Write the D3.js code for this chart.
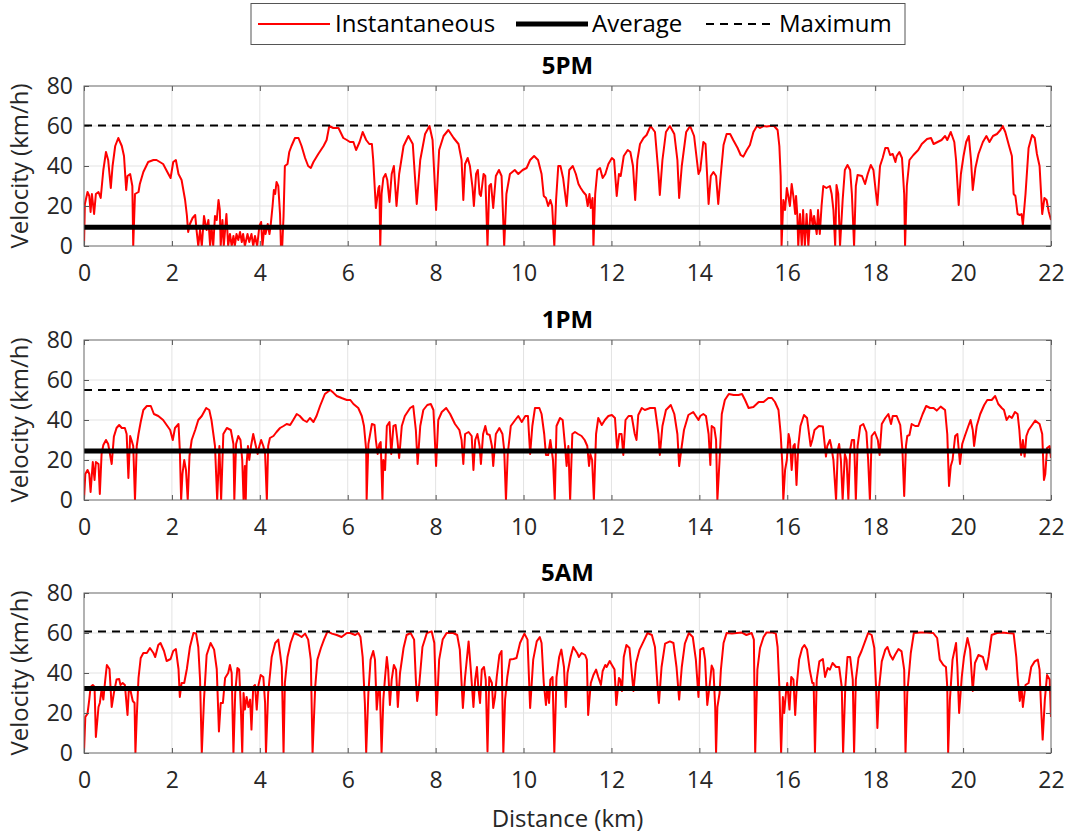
<!DOCTYPE html>
<html><head><meta charset="utf-8">
<script src="https://cdn.jsdelivr.net/npm/d3@7"></script>
<style>
body{margin:0;background:#fff;}
svg{display:block;font-family:"Open Sans",sans-serif;}
</style></head>
<body><svg id="chart" width="1067" height="836"></svg>
<script>
// ---------- data ----------
const panelTitles = ["5PM", "1PM", "5AM"];
const xTicks = [0,2,4,6,8,10,12,14,16,18,20,22];
const yTicks = [0,20,40,60,80];
const averageVel = [9.4, 24.5, 32.2];
const maximumVel = [60.3, 55, 60.8];
const legendLabels = ["Instantaneous", "Average", "Maximum"];

// [distance km, velocity km/h]
const vel5PM = [[0,0],[0.02,21],[0.08,27],[0.12,25],[0.15,17],[0.18,26],[0.23,16],[0.27,26],[0.33,27],[0.38,24],[0.44,38],[0.50,47],[0.55,43],[0.61,29],[0.65,40],[0.71,50],[0.78,54],[0.86,50],[0.91,45],[0.96,28],[0.99,35],[1.05,36],[1.10,30],[1.12,0],[1.16,26],[1.24,27],[1.27,31],[1.35,37],[1.46,42],[1.58,43],[1.65,43],[1.80,41],[1.92,36],[1.97,34],[2.03,42],[2.09,43],[2.15,36],[2.22,33],[2.30,23],[2.34,15.5],[2.37,7],[2.41,11],[2.47,14],[2.53,15.5],[2.56,8],[2.60,0],[2.64,8],[2.68,0],[2.73,15],[2.79,8],[2.83,13],[2.87,0],[2.90,10],[2.94,0],[2.98,15],[3.02,13],[3.06,23],[3.09,18],[3.11,0],[3.15,13],[3.18,0],[3.24,16],[3.28,0],[3.32,6],[3.36,0],[3.40,5],[3.43,0],[3.47,6],[3.51,3],[3.55,7],[3.59,2],[3.62,6],[3.66,0],[3.72,6],[3.76,2],[3.81,6],[3.85,0],[3.89,5],[3.94,0],[3.99,10],[4.03,12],[4.06,0],[4.10,9],[4.13,6],[4.18,11],[4.22,6],[4.25,11],[4.29,20],[4.32,28],[4.35,26],[4.38,32],[4.42,30],[4.46,16],[4.48,0],[4.51,0],[4.54,15],[4.57,40],[4.63,41],[4.67,47],[4.72,50],[4.80,54],[4.88,54],[4.95,50],[5.03,44],[5.10,40],[5.16,39],[5.22,42],[5.33,46],[5.45,50],[5.52,53],[5.58,60],[5.67,59],[5.79,59],[5.90,54],[5.98,53],[6.05,52],[6.13,52],[6.19,48],[6.27,52],[6.34,57],[6.42,53],[6.49,51],[6.55,51],[6.58,43],[6.64,19],[6.70,29],[6.72,30],[6.74,0],[6.77,26],[6.81,34],[6.86,36],[6.90,33],[6.95,22],[7.00,36],[7.05,40],[7.11,20],[7.17,36],[7.27,50],[7.38,55],[7.48,51],[7.57,21],[7.65,43],[7.76,56],[7.86,60],[7.93,53],[8.01,18],[8.08,48],[8.18,55],[8.29,58],[8.41,54],[8.52,51],[8.59,43],[8.63,23],[8.67,41],[8.73,44],[8.78,40],[8.84,29],[8.87,20],[8.92,36],[8.96,38],[9.00,26],[9.03,25],[9.09,36],[9.13,35],[9.18,0],[9.22,30],[9.26,31],[9.31,19],[9.37,35],[9.44,38],[9.50,35],[9.56,0],[9.61,26],[9.69,36],[9.80,38],[9.88,36],[9.98,38],[10.07,39],[10.15,43],[10.24,45],[10.33,43],[10.41,36],[10.46,25],[10.51,24],[10.56,20],[10.61,23],[10.65,20],[10.70,0],[10.74,23],[10.79,40],[10.84,40],[10.90,34],[10.98,20],[11.04,38],[11.12,40],[11.19,36],[11.25,31],[11.30,29],[11.36,27],[11.42,25.5],[11.46,20],[11.50,26],[11.53,19],[11.57,24],[11.59,0],[11.63,26],[11.68,38],[11.74,39],[11.80,34],[11.86,36],[11.93,41],[12.01,44],[12.06,43],[12.12,25],[12.17,36],[12.21,35],[12.28,45],[12.37,48],[12.43,47],[12.49,40],[12.54,23],[12.59,43],[12.65,51],[12.73,54],[12.80,55.5],[12.89,60],[12.99,57],[13.07,36],[13.10,25.5],[13.16,43],[13.24,57],[13.33,60],[13.43,56],[13.50,43],[13.54,24],[13.60,40],[13.70,57],[13.79,60],[13.88,55],[13.98,36],[14.02,38],[14.09,52],[14.14,51],[14.21,21],[14.26,35],[14.32,37],[14.38,35],[14.43,21],[14.48,34],[14.55,50.5],[14.62,56],[14.70,56],[14.77,53],[14.87,49],[14.94,45.5],[15.00,44.7],[15.08,48],[15.15,50.5],[15.23,57],[15.31,60],[15.38,59],[15.46,60],[15.53,59.7],[15.61,60],[15.70,60],[15.78,58],[15.82,50],[15.85,35],[15.87,0],[15.91,23],[15.95,18],[15.99,29],[16.03,24],[16.06,20],[16.10,31],[16.14,24.7],[16.18,16],[16.20,25],[16.23,15],[16.25,0],[16.29,16],[16.33,0],[16.36,18],[16.40,0],[16.44,16],[16.48,0],[16.53,18],[16.58,10],[16.61,15],[16.67,6],[16.70,18],[16.74,6],[16.78,20],[16.82,30],[16.89,29],[16.97,30],[17.01,26],[17.05,18],[17.09,0],[17.12,30.5],[17.16,26],[17.20,0],[17.26,23],[17.31,38],[17.37,40.5],[17.43,38],[17.47,26],[17.52,0],[17.56,30],[17.60,35.5],[17.70,35],[17.77,31],[17.83,36],[17.90,40.5],[17.96,38],[18.02,26],[18.05,20.5],[18.11,40],[18.17,44],[18.23,49],[18.29,49],[18.34,45.5],[18.40,46],[18.46,42],[18.49,45],[18.55,47],[18.61,44],[18.66,26],[18.68,0],[18.72,30],[18.78,43],[18.87,45.5],[18.98,48],[19.06,51],[19.18,53.5],[19.27,54],[19.33,51],[19.42,52],[19.51,53],[19.59,55],[19.64,53],[19.72,57],[19.80,52],[19.84,43],[19.90,20.5],[19.95,36],[20.01,45],[20.07,52],[20.13,55],[20.18,43],[20.22,28],[20.28,39],[20.35,46],[20.45,52],[20.53,55],[20.60,52],[20.68,55],[20.77,56],[20.85,58],[20.90,60],[20.96,57],[21.04,50.5],[21.11,45],[21.15,26],[21.19,25],[21.24,16],[21.29,15.5],[21.33,16],[21.36,10.5],[21.42,26],[21.49,49],[21.57,55.5],[21.63,54],[21.68,46],[21.74,40],[21.80,16],[21.85,24],[21.90,23],[21.95,17],[22.00,13]];

const vel1PM = [[0,0],[0.03,13],[0.08,15],[0.12,13],[0.15,4],[0.20,19],[0.24,10],[0.27,19],[0.33,18],[0.36,3],[0.40,23],[0.44,27.5],[0.50,30],[0.55,28],[0.63,18],[0.68,31.7],[0.74,36],[0.80,37.5],[0.86,36],[0.93,36],[0.97,33],[1.01,11],[1.05,32],[1.08,30],[1.12,27],[1.16,0],[1.20,27],[1.24,33],[1.29,39],[1.35,45],[1.43,47],[1.52,47],[1.59,43],[1.69,42],[1.80,40],[1.88,37.5],[1.96,35],[2.02,30],[2.07,36],[2.15,38],[2.18,25],[2.21,0],[2.24,13],[2.28,20],[2.32,15],[2.36,0],[2.40,22],[2.45,30],[2.53,35],[2.60,40],[2.68,42],[2.78,46],[2.85,45],[2.90,40],[2.98,27],[3.03,0],[3.08,27],[3.12,0],[3.17,33],[3.25,36],[3.34,35],[3.40,28],[3.42,0],[3.46,28],[3.51,32],[3.56,30],[3.60,20],[3.63,0],[3.66,17],[3.68,0],[3.70,18],[3.73,27],[3.76,20],[3.80,27],[3.85,33],[3.91,27],[3.95,23],[3.99,27],[4.03,30],[4.08,27],[4.12,23],[4.16,0],[4.19,27],[4.23,31],[4.31,32],[4.38,34],[4.46,36],[4.54,37],[4.61,38],[4.69,37.5],[4.76,40],[4.84,43],[4.91,42],[4.99,40],[5.07,39],[5.14,41],[5.22,39],[5.29,42],[5.37,47],[5.48,53],[5.60,55],[5.67,53.7],[5.75,52],[5.86,51],[5.98,50],[6.06,50],[6.13,48],[6.24,46],[6.32,42],[6.37,37],[6.42,25],[6.43,0],[6.47,28],[6.55,38],[6.61,37.5],[6.64,30],[6.68,23],[6.72,28],[6.75,29],[6.79,0],[6.81,20],[6.85,15],[6.89,37],[6.95,39],[6.99,23],[7.04,37],[7.09,37.5],[7.13,30],[7.17,21],[7.23,37],[7.30,42],[7.42,46],[7.49,47],[7.55,35],[7.59,18],[7.65,37],[7.72,45],[7.81,47.5],[7.89,48],[7.95,45],[8.01,17],[8.06,40],[8.14,44],[8.24,46],[8.33,43],[8.44,38],[8.54,35],[8.59,30],[8.63,18],[8.67,33],[8.75,34],[8.82,32],[8.86,15],[8.90,30],[8.95,33],[9.00,27],[9.03,18],[9.08,33],[9.13,37],[9.17,33],[9.23,32.5],[9.28,27],[9.31,17],[9.37,33],[9.45,36],[9.52,33],[9.56,25],[9.60,0],[9.64,23],[9.71,37],[9.81,40],[9.88,42],[9.96,39],[10.04,42],[10.10,42],[10.15,23],[10.20,37],[10.26,46],[10.36,46],[10.41,43],[10.47,33],[10.51,22.5],[10.56,22.5],[10.61,30],[10.67,20],[10.71,0],[10.75,37],[10.83,41],[10.89,40],[10.94,28],[10.98,17],[11.02,27],[11.06,0],[11.11,33],[11.17,34],[11.24,33],[11.32,32],[11.39,30],[11.45,27],[11.49,17],[11.52,23],[11.56,20],[11.60,0],[11.65,33],[11.70,41],[11.78,37.5],[11.85,40],[11.93,42],[12.01,42.5],[12.08,41],[12.13,25],[12.18,33],[12.23,33],[12.27,22.5],[12.32,40],[12.39,42],[12.46,42],[12.53,33],[12.57,30],[12.61,42.5],[12.69,46],[12.76,45],[12.88,46],[12.99,46],[13.07,33],[13.10,22.5],[13.16,37],[13.24,45],[13.35,47.5],[13.43,43],[13.50,33],[13.54,17],[13.60,27],[13.65,35],[13.75,42.5],[13.86,44],[13.98,40],[14.02,42],[14.09,43],[14.15,42],[14.21,33],[14.25,17.5],[14.28,37],[14.34,36],[14.38,30],[14.41,0],[14.46,20],[14.51,43],[14.58,50],[14.67,53],[14.78,52.5],[14.89,52.5],[14.97,53],[15.04,50],[15.12,46],[15.23,46.5],[15.35,49],[15.46,49],[15.57,51],[15.65,51],[15.72,49],[15.80,45],[15.85,33],[15.89,17],[15.91,0],[15.95,15],[15.99,20],[16.03,33],[16.06,30],[16.10,15],[16.14,27],[16.17,28],[16.21,7.5],[16.25,27],[16.30,37],[16.38,42.5],[16.45,41],[16.53,27],[16.57,30],[16.62,35],[16.72,37],[16.81,36.7],[16.88,21.7],[16.91,27],[16.97,30],[17.00,27],[17.05,20],[17.11,0],[17.15,25],[17.18,28],[17.22,20],[17.26,0],[17.31,23],[17.35,20],[17.39,0],[17.43,25],[17.47,30],[17.52,30],[17.56,0],[17.60,27],[17.66,37],[17.73,38],[17.80,34],[17.84,20],[17.88,0],[17.92,32],[17.99,34],[18.06,30],[18.10,22.5],[18.15,38],[18.23,41],[18.30,43],[18.36,38],[18.40,42],[18.49,42],[18.57,37.5],[18.62,25],[18.66,2],[18.70,27],[18.73,32],[18.78,32.5],[18.83,38],[18.91,37],[18.98,37],[19.08,43],[19.16,47],[19.25,46],[19.33,46],[19.40,44.7],[19.49,46.7],[19.59,45],[19.64,33],[19.68,7],[19.72,17],[19.76,20],[19.82,32],[19.87,33],[19.93,18],[19.98,28],[20.04,32],[20.12,37],[20.17,40],[20.22,35],[20.25,27],[20.31,37],[20.39,43],[20.48,47.5],[20.55,50],[20.65,50],[20.73,52],[20.80,48],[20.88,46],[20.93,45],[20.99,40],[21.05,42],[21.11,41],[21.18,44],[21.24,43],[21.28,35],[21.32,22.5],[21.36,30],[21.40,21.7],[21.44,32],[21.49,35],[21.57,37.5],[21.64,39.7],[21.74,38],[21.80,33],[21.84,10],[21.87,13],[21.91,26],[21.97,27],[22.00,21]];

const vel5AM = [[0,0],[0.03,18],[0.08,19.7],[0.12,26.7],[0.15,33],[0.20,34],[0.24,33],[0.27,8],[0.33,23],[0.36,25],[0.40,31.7],[0.44,26.7],[0.48,35.8],[0.52,44],[0.58,42],[0.63,23],[0.68,30],[0.74,36.7],[0.80,37],[0.83,34],[0.88,35],[0.93,34],[0.99,19],[1.02,31.7],[1.06,31],[1.11,26],[1.15,25],[1.17,0],[1.20,18],[1.24,37.5],[1.29,47.5],[1.35,50],[1.43,50],[1.50,52.5],[1.58,50],[1.62,48],[1.69,54],[1.74,55],[1.82,51],[1.88,46],[1.97,47],[2.03,51],[2.09,52],[2.15,42],[2.18,28],[2.22,35],[2.28,35],[2.34,42],[2.41,53],[2.49,60],[2.55,59.7],[2.60,53],[2.64,37],[2.68,0],[2.73,26.7],[2.79,49],[2.88,55],[2.96,51.7],[3.02,42],[3.07,10.8],[3.11,25],[3.16,25],[3.21,37.5],[3.28,40],[3.32,44],[3.36,40],[3.40,0],[3.44,30],[3.49,42.5],[3.53,41.7],[3.57,21.7],[3.60,0],[3.63,30],[3.66,21.7],[3.70,28],[3.74,23],[3.78,26.7],[3.81,11.7],[3.85,33],[3.89,34],[3.93,21.7],[3.97,34],[4.02,39],[4.08,38],[4.12,25],[4.14,0],[4.19,30],[4.27,48],[4.35,55],[4.42,56.7],[4.46,50],[4.50,43],[4.54,0],[4.57,35],[4.63,48],[4.70,55],[4.78,60],[4.88,59],[4.95,58],[5.03,59.7],[5.10,56.7],[5.16,46.7],[5.20,0],[5.26,33],[5.31,46.7],[5.39,52.5],[5.46,56.7],[5.54,60.8],[5.64,59.7],[5.75,59],[5.86,58],[5.98,60],[6.06,60],[6.17,59],[6.24,60],[6.29,58],[6.34,48],[6.39,25],[6.42,0],[6.47,30],[6.52,46.7],[6.58,51],[6.62,46.7],[6.66,21.7],[6.70,31.7],[6.73,33],[6.77,0],[6.81,26.7],[6.85,38],[6.89,48],[6.92,41.7],[6.96,24],[7.00,36.7],[7.05,44],[7.10,41.7],[7.14,23],[7.19,40],[7.27,52.5],[7.34,59],[7.43,60],[7.51,56.7],[7.55,36.7],[7.58,26],[7.63,35],[7.70,53],[7.80,60],[7.91,60.8],[7.97,55],[8.02,19],[8.08,46.7],[8.16,56.7],[8.25,60],[8.40,60],[8.49,59],[8.55,51.7],[8.62,22.5],[8.67,38],[8.75,55.8],[8.80,41.7],[8.86,23],[8.90,36.7],[8.94,43],[8.97,33],[9.01,25],[9.05,41.7],[9.10,43],[9.14,36.7],[9.18,0.8],[9.22,38],[9.28,35],[9.31,22.5],[9.35,28],[9.39,38],[9.45,49],[9.50,51],[9.54,0],[9.58,26.7],[9.63,38],[9.69,46.7],[9.77,47],[9.84,47.5],[9.92,55],[10.02,59.7],[10.09,56.7],[10.15,22.5],[10.22,46.7],[10.30,55.8],[10.37,58],[10.41,55],[10.46,35],[10.51,24],[10.54,33],[10.58,25],[10.61,36.7],[10.66,38],[10.70,0],[10.75,38],[10.81,48],[10.86,51.7],[10.92,43],[10.96,23],[11.00,40],[11.07,48],[11.13,53],[11.19,51],[11.22,50],[11.26,48],[11.32,50],[11.40,49],[11.44,46.7],[11.47,19],[11.53,35],[11.59,39],[11.65,41.7],[11.70,38],[11.76,34],[11.80,41],[11.86,44],[11.89,43],[11.96,46],[12.01,44],[12.07,41.7],[12.11,24],[12.17,37.5],[12.20,36.7],[12.24,31],[12.28,48],[12.34,54],[12.41,52.5],[12.45,43],[12.50,31],[12.56,45],[12.64,51.7],[12.73,55.8],[12.82,60],[12.92,59],[12.99,53],[13.05,33],[13.08,25],[13.14,43],[13.22,54.7],[13.33,55.8],[13.41,55],[13.48,43],[13.54,26.7],[13.60,43],[13.67,54.7],[13.76,60],[13.85,58],[13.92,46.7],[13.98,28],[14.02,51.7],[14.09,52.5],[14.13,46.7],[14.18,24],[14.23,33],[14.28,43.7],[14.32,41.7],[14.36,23],[14.38,0],[14.41,23],[14.46,30],[14.49,41.7],[14.55,55],[14.62,60],[14.74,59.7],[14.85,60],[14.96,60.3],[15.07,59],[15.19,60],[15.24,56.7],[15.27,0],[15.32,41.7],[15.38,52.5],[15.46,58],[15.53,60.3],[15.65,60.3],[15.74,59.7],[15.78,53],[15.82,33],[15.86,0],[15.90,28],[15.93,20],[15.97,30],[16.00,35],[16.05,21.7],[16.09,38],[16.14,36.7],[16.18,19],[16.22,35],[16.27,46.7],[16.34,52.5],[16.39,54],[16.45,51.7],[16.51,41.7],[16.57,35],[16.60,35],[16.63,0],[16.67,36.7],[16.73,45.8],[16.81,47],[16.86,38],[16.92,42.5],[16.97,41.7],[17.03,45],[17.11,43],[17.18,43],[17.24,33],[17.27,0],[17.32,33],[17.37,48],[17.43,48],[17.49,36.7],[17.52,0],[17.56,36.7],[17.62,47.5],[17.69,51],[17.77,55.8],[17.84,60],[17.92,59],[17.98,52.5],[18.02,33],[18.05,12.5],[18.09,33],[18.15,45.8],[18.23,51.7],[18.28,53],[18.34,49],[18.40,46.7],[18.45,49],[18.53,52],[18.60,50.8],[18.66,41.7],[18.69,0],[18.73,30],[18.81,50],[18.88,60],[19.02,60.3],[19.17,60.3],[19.32,60],[19.41,57.5],[19.47,46.7],[19.55,44],[19.61,43],[19.64,33],[19.66,0],[19.70,26.7],[19.76,46.7],[19.84,55],[19.87,43],[19.91,20],[19.97,38],[20.02,48],[20.10,57.5],[20.16,51.7],[20.22,31],[20.27,45],[20.35,49],[20.45,48],[20.53,41.7],[20.58,48],[20.65,59],[20.77,60],[20.88,60.3],[21.00,60],[21.15,59.7],[21.21,48],[21.24,38],[21.29,26],[21.33,33],[21.36,23],[21.42,34],[21.49,35],[21.55,43],[21.63,45.8],[21.70,46.7],[21.74,41.7],[21.77,25],[21.81,6.7],[21.86,26.7],[21.91,39],[21.97,36.7],[22.00,18]];

const series = [vel5PM, vel1PM, vel5AM];

// ---------- layout ----------
const svg = d3.select("#chart");
const left = 84, right = 1051;
const panelTops = [86, 340, 593];
const panelH = 160;
const textColor = "#262626";
const fontSize = 23;

const x = d3.scaleLinear().domain([0, 22]).range([left, right]);

panelTitles.forEach((title, i) => {
  const top = panelTops[i], bottom = top + panelH;
  const y = d3.scaleLinear().domain([0, 80]).range([bottom, top]);
  const g = svg.append("g");

  // grid
  g.append("g").selectAll("line.vg").data(xTicks.slice(1, -1)).join("line")
    .attr("x1", d => x(d)).attr("x2", d => x(d)).attr("y1", top).attr("y2", bottom)
    .attr("stroke", "#e3e3e3").attr("stroke-width", 1);
  g.append("g").selectAll("line.hg").data(yTicks.slice(1, -1)).join("line")
    .attr("x1", left).attr("x2", right).attr("y1", d => y(d)).attr("y2", d => y(d))
    .attr("stroke", "#e3e3e3").attr("stroke-width", 1);

  // clip
  const cid = "clip" + i;
  svg.append("clipPath").attr("id", cid).append("rect")
    .attr("x", left).attr("y", top - 2).attr("width", right - left).attr("height", panelH + 2);

  // instantaneous
  const line = d3.line().x(d => x(d[0])).y(d => y(d[1]));
  g.append("path").datum(series[i]).attr("d", line)
    .attr("fill", "none").attr("stroke", "#ff0000").attr("stroke-width", 2)
    .attr("stroke-linejoin", "round").attr("clip-path", `url(#${cid})`);

  // average
  g.append("line").attr("x1", left).attr("x2", right)
    .attr("y1", y(averageVel[i])).attr("y2", y(averageVel[i]))
    .attr("stroke", "#000").attr("stroke-width", 5);
  // maximum
  g.append("line").attr("x1", left).attr("x2", right)
    .attr("y1", y(maximumVel[i])).attr("y2", y(maximumVel[i]))
    .attr("stroke", "#000").attr("stroke-width", 2).attr("stroke-dasharray", "8,6");

  // axes
  const ax = g.append("g").attr("transform", `translate(0,${bottom})`)
    .call(d3.axisBottom(x).tickValues(xTicks).tickSizeInner(-5).tickSizeOuter(0).tickPadding(19));
  const ay = g.append("g").attr("transform", `translate(${left},0)`)
    .call(d3.axisLeft(y).tickValues(yTicks).tickSizeInner(-5).tickSizeOuter(0).tickPadding(11));
  const at = g.append("g").attr("transform", `translate(0,${top})`)
    .call(d3.axisTop(x).tickValues(xTicks).tickSizeInner(-5).tickSizeOuter(0).tickFormat(""));
  const ar = g.append("g").attr("transform", `translate(${right},0)`)
    .call(d3.axisRight(y).tickValues(yTicks).tickSizeInner(-5).tickSizeOuter(0).tickFormat(""));
  [ax, ay, at, ar].forEach(a => {
    a.select(".domain").remove();
    a.selectAll(".tick line").attr("stroke", "#555");
    a.selectAll(".tick text").attr("fill", textColor)
      .style("font-size", fontSize + "px").style("font-family", '"Open Sans", sans-serif');
  });

  // frame
  g.append("rect").attr("x", left).attr("y", top).attr("width", right - left).attr("height", panelH)
    .attr("fill", "none").attr("stroke", "#666").attr("stroke-width", 1);

  // title
  g.append("text").attr("x", (left + right) / 2).attr("y", top - 12)
    .attr("text-anchor", "middle").attr("font-weight", "bold").attr("font-size", 24)
    .attr("fill", "#000").text(title);

  // y label
  g.append("text").attr("transform", `translate(28,${(top + bottom) / 2}) rotate(-90)`)
    .attr("text-anchor", "middle").attr("font-size", 24).attr("fill", textColor)
    .text("Velocity (km/h)");
});

// x label
svg.append("text").attr("x", (left + right) / 2).attr("y", 827)
  .attr("text-anchor", "middle").attr("font-size", 24).attr("fill", textColor)
  .text("Distance (km)");

// legend
const lg = svg.append("g");
lg.append("rect").attr("x", 251).attr("y", 3.5).attr("width", 654).attr("height", 41)
  .attr("fill", "#fff").attr("stroke", "#555").attr("stroke-width", 1);
const legendItems = [
  {label: legendLabels[0], x1: 258, x2: 330, tx: 335, stroke: "#ff0000", w: 2, dash: null},
  {label: legendLabels[1], x1: 516, x2: 588, tx: 592, stroke: "#000", w: 5, dash: null},
  {label: legendLabels[2], x1: 706, x2: 772, tx: 779, stroke: "#000", w: 2, dash: "8,6"}
];
legendItems.forEach(it => {
  lg.append("line").attr("x1", it.x1).attr("x2", it.x2).attr("y1", 24).attr("y2", 24)
    .attr("stroke", it.stroke).attr("stroke-width", it.w).attr("stroke-dasharray", it.dash);
  lg.append("text").attr("x", it.tx).attr("y", 24).attr("dy", "0.35em")
    .attr("font-size", 24).attr("fill", "#000").text(it.label);
});
</script></body></html>
